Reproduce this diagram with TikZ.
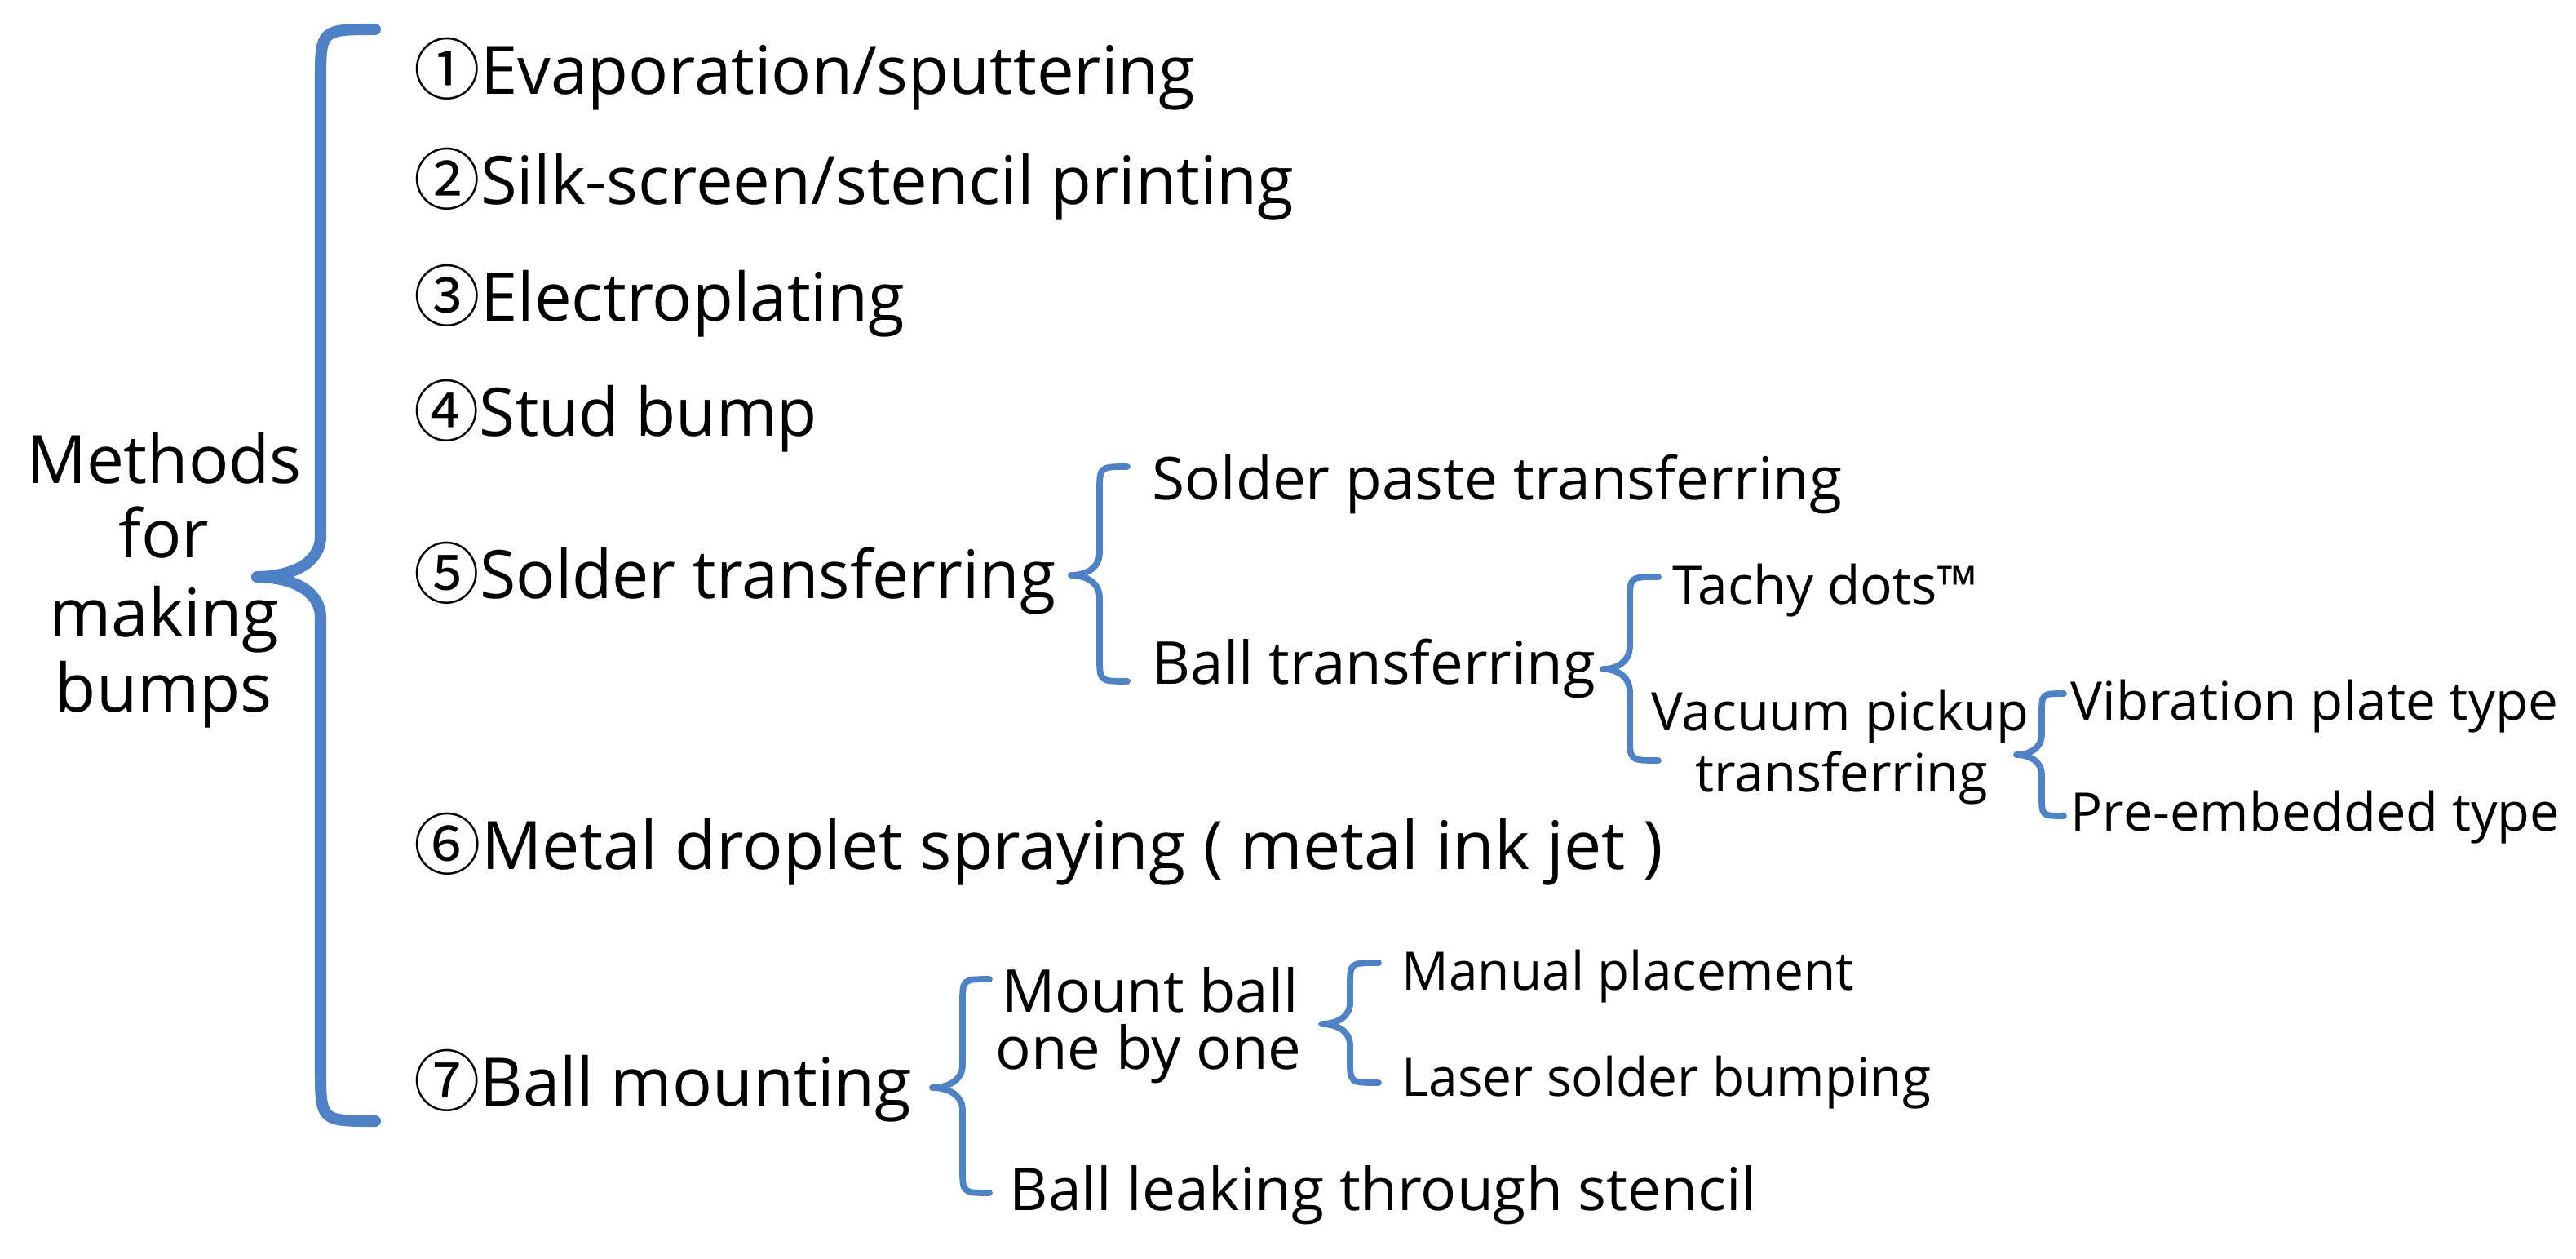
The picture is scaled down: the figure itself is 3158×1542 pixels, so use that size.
\documentclass[tikz,border=0pt]{standalone}
\usepackage{fontspec}
\setmainfont{Open Sans}
\newfontfamily\cjk{Noto Sans CJK SC}
\usepackage{graphicx}
\definecolor{brc}{RGB}{79,129,199}
\newsavebox\fitbox
\newcommand\fitw[2]{\sbox\fitbox{#2}\pgfmathsetmacro\fitr{#1*0.284528/\the\wd\fitbox}\scalebox{\fitr}[1]{\usebox\fitbox}}
% curly brace: #1 xe, #2 xv, #3 xt, #4 yt, #5 ym, #6 yb, #7 end radius, #8 tip half height, #9 style
\newcommand\cbrace[9]{%
\draw[bracestyle,#9] (#1,#4) .. controls (#2,#4) .. (#2,{#4+#7}) -- (#2,{#5-#8})
 .. controls (#2,{#5-0.3*#8}) and ({#2-0.5*(#2-#3)},#5) .. (#3,#5)
 .. controls ({#2-0.5*(#2-#3)},#5) and (#2,{#5+0.3*#8}) .. (#2,{#5+#8})
 -- (#2,{#6-#7}) .. controls (#2,#6) .. (#1,#6);}
\tikzset{
 mainf/.style={font=\fontsize{23.3}{28}\selectfont, inner sep=0pt, anchor=base west},
 medf/.style={font=\fontsize{20.6}{25}\selectfont, inner sep=0pt, anchor=base west},
 smallf/.style={font=\fontsize{18.5}{22}\selectfont, inner sep=0pt, anchor=base west},
 bracestyle/.style={draw=brc, line cap=round, line join=round},
 bigbrace/.style={line width=4pt},
 smallbrace/.style={line width=2.2pt},
}
\begin{document}
\begin{tikzpicture}[x=0.01cm,y=-0.01cm]
\useasboundingbox[fill=white] (0,0) rectangle (3158,1542);
% title
\node[mainf,anchor=base] (t1) at (201,592) {Methods};
\node[mainf,anchor=base] (t2) at (201,683) {for};
\node[mainf,anchor=base] (t3) at (201,780) {making};
\node[mainf,anchor=base] (t4) at (201,872) {bumps};
% main items
\node[mainf] (i1) at (507,115) {\fitw{957}{{\cjk ①}Evaporation/sputtering}};
\node[mainf] (i2) at (507,250) {\fitw{1078}{{\cjk ②}Silk-screen/stencil printing}};
\node[mainf] (i3) at (507,393) {\fitw{601}{{\cjk ③}Electroplating}};
\node[mainf] (i4) at (507,534) {\fitw{494}{{\cjk ④}Stud bump}};
\node[mainf] (i5) at (507,733) {\fitw{786}{{\cjk ⑤}Solder transferring}};
\node[mainf] (i6) at (507,1065) {\fitw{1530}{{\cjk ⑥}Metal droplet spraying ( metal ink jet )}};
\node[mainf] (i7) at (507,1355) {\fitw{609}{{\cjk ⑦}Ball mounting}};
% level 2
\node[medf] (sp) at (1412,612) {\fitw{845}{Solder paste transferring}};
\node[medf] (bt) at (1412,838) {\fitw{543}{Ball transferring}};
\node[medf,anchor=base] (mb1) at (1410,1240) {Mount ball};
\node[medf,anchor=base] (mb2) at (1408,1310) {one by one};
\node[medf] (bl) at (1237,1483) {\fitw{915}{Ball leaking through stencil}};
% level 3
\node[smallf] (td) at (2050,740) {\fitw{375}{Tachy dots™}};
\node[smallf,anchor=base] (vp1) at (2256,895) {Vacuum pickup};
\node[smallf,anchor=base] (vp2) at (2258,970) {transferring};
\node[smallf] (man) at (1718,1213) {\fitw{554}{Manual placement}};
\node[smallf] (las) at (1718,1343) {\fitw{648}{Laser solder bumping}};
% level 4
\node[smallf] (vib) at (2538,882) {\fitw{597}{Vibration plate type}};
\node[smallf] (pre) at (2538,1018) {\fitw{599}{Pre-embedded type}};
% braces
\cbrace{460}{393}{315}{36}{707}{1374}{65}{50}{bigbrace}
\cbrace{1382}{1348}{1313}{572}{705}{835}{30}{28}{smallbrace}
\cbrace{2033}{1998}{1965}{707}{820}{932}{30}{28}{smallbrace}
\cbrace{2530}{2503}{2472}{850}{925}{1000}{25}{25}{smallbrace}
\cbrace{1213}{1180}{1143}{1200}{1333}{1462}{30}{28}{smallbrace}
\cbrace{1690}{1655}{1620}{1180}{1255}{1327}{28}{26}{smallbrace}
\end{tikzpicture}
\end{document}
